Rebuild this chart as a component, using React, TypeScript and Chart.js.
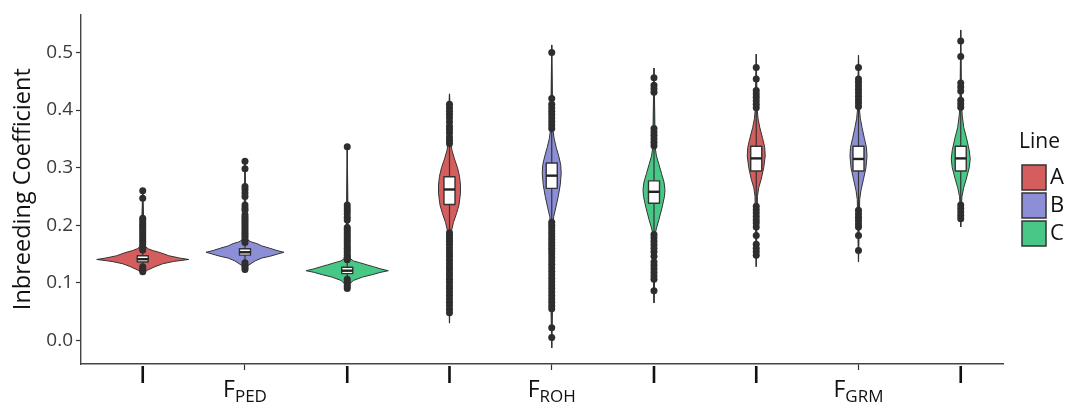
import React, { useEffect, useRef } from "react";
import { Chart, registerables } from "chart.js";

Chart.register(...registerables);

// ---------- data ----------
const categories = ["PED", "ROH", "GRM"];
const lineNames = ["A", "B", "C"];
const lineColors = ["#D45E5E", "#8D8FD6", "#48C887"];
const yTicks = [0, 0.1, 0.2, 0.3, 0.4, 0.5];

// violin density profiles: [value, half-width in category units]
const violinPedA = [[0.116, 0], [0.122, 0.016], [0.128, 0.04], [0.133, 0.065], [0.137, 0.1], [0.1405, 0.15], [0.143, 0.12], [0.147, 0.085], [0.152, 0.059], [0.156, 0.033], [0.159, 0.018], [0.163, 0.008], [0.175, 0.005], [0.21, 0.003], [0.262, 0]];
const violinPedB = [[0.122, 0], [0.13, 0.01], [0.138, 0.033], [0.143, 0.055], [0.146, 0.081], [0.15, 0.107], [0.153, 0.127], [0.156, 0.104], [0.16, 0.081], [0.164, 0.055], [0.168, 0.039], [0.171, 0.02], [0.174, 0.01], [0.18, 0.005], [0.22, 0.003], [0.311, 0]];
const violinPedC = [[0.088, 0], [0.098, 0.008], [0.104, 0.02], [0.11, 0.05], [0.114, 0.081], [0.118, 0.107], [0.121, 0.134], [0.124, 0.11], [0.128, 0.085], [0.131, 0.065], [0.135, 0.04], [0.138, 0.02], [0.142, 0.01], [0.16, 0.005], [0.2, 0.003], [0.336, 0]];
const violinRohA = [[0.03, 0], [0.1, 0.0023], [0.18, 0.004], [0.19, 0.0065], [0.205, 0.013], [0.22, 0.0228], [0.235, 0.0309], [0.255, 0.0358], [0.27, 0.0358], [0.285, 0.0326], [0.3, 0.026], [0.315, 0.0163], [0.33, 0.008], [0.345, 0.004], [0.4, 0.0023], [0.428, 0]];
const violinRohB = [[-0.013, 0], [0.05, 0.0023], [0.2, 0.004], [0.215, 0.0065], [0.23, 0.013], [0.25, 0.0212], [0.27, 0.0277], [0.29, 0.0309], [0.305, 0.0293], [0.32, 0.0228], [0.335, 0.0147], [0.35, 0.008], [0.365, 0.004], [0.42, 0.0023], [0.513, 0]];
const violinRohC = [[0.065, 0], [0.11, 0.0023], [0.185, 0.004], [0.195, 0.008], [0.21, 0.0163], [0.23, 0.026], [0.25, 0.0342], [0.262, 0.0358], [0.275, 0.0326], [0.29, 0.0244], [0.305, 0.0163], [0.32, 0.008], [0.335, 0.004], [0.4, 0.0023], [0.473, 0]];
const violinGrmA = [[0.128, 0], [0.2, 0.0023], [0.25, 0.004], [0.265, 0.008], [0.28, 0.0163], [0.3, 0.0244], [0.32, 0.0293], [0.335, 0.0277], [0.35, 0.0212], [0.37, 0.0114], [0.385, 0.006], [0.4, 0.0033], [0.497, 0]];
const violinGrmB = [[0.136, 0], [0.2, 0.0023], [0.245, 0.004], [0.26, 0.008], [0.28, 0.0163], [0.3, 0.0244], [0.32, 0.0277], [0.335, 0.026], [0.35, 0.0195], [0.37, 0.0114], [0.385, 0.006], [0.4, 0.0033], [0.495, 0]];
const violinGrmC = [[0.197, 0], [0.235, 0.0023], [0.25, 0.004], [0.265, 0.0098], [0.28, 0.0179], [0.3, 0.0277], [0.315, 0.0309], [0.33, 0.0277], [0.35, 0.0195], [0.37, 0.0098], [0.39, 0.005], [0.41, 0.0026], [0.539, 0]];

// boxplot statistics (order: PED A,B,C, ROH A,B,C, GRM A,B,C)
const boxQ1 = [0.136, 0.148, 0.116, 0.236, 0.264, 0.238, 0.294, 0.294, 0.294];
const boxMedian = [0.141, 0.153, 0.121, 0.262, 0.286, 0.258, 0.316, 0.315, 0.316];
const boxQ3 = [0.147, 0.159, 0.127, 0.284, 0.308, 0.277, 0.337, 0.337, 0.337];
const tailMin = [0.116, 0.122, 0.088, 0.03, -0.013, 0.065, 0.128, 0.136, 0.197];
const tailMax = [0.262, 0.311, 0.336, 0.428, 0.513, 0.473, 0.497, 0.495, 0.539];

// outliers
const outPedA = [0.26, 0.247, 0.212, 0.208, 0.204, 0.2, 0.196, 0.192, 0.188, 0.184, 0.18, 0.176, 0.172, 0.168, 0.164, 0.16, 0.157, 0.128, 0.125, 0.122, 0.119];
const outPedB = [0.311, 0.298, 0.267, 0.262, 0.256, 0.25, 0.235, 0.23, 0.226, 0.218, 0.214, 0.21, 0.206, 0.202, 0.198, 0.194, 0.19, 0.186, 0.182, 0.178, 0.174, 0.17, 0.135, 0.131, 0.127, 0.123];
const outPedC = [0.336, 0.235, 0.23, 0.225, 0.22, 0.214, 0.209, 0.196, 0.192, 0.188, 0.184, 0.18, 0.176, 0.172, 0.168, 0.164, 0.16, 0.156, 0.152, 0.148, 0.144, 0.14, 0.106, 0.102, 0.098, 0.094, 0.09];
const outRohA = [0.41, 0.404, 0.398, 0.392, 0.386, 0.379, 0.372, 0.366, 0.36, 0.353, 0.347, 0.342, 0.187, 0.182, 0.177, 0.172, 0.167, 0.161, 0.155, 0.15, 0.145, 0.139, 0.133, 0.128, 0.123, 0.117, 0.112, 0.106, 0.101, 0.095, 0.09, 0.084, 0.078, 0.072, 0.066, 0.06, 0.054, 0.048];
const outRohB = [0.5, 0.42, 0.41, 0.404, 0.398, 0.392, 0.386, 0.38, 0.374, 0.368, 0.205, 0.2, 0.195, 0.19, 0.185, 0.18, 0.175, 0.17, 0.165, 0.16, 0.155, 0.15, 0.144, 0.138, 0.132, 0.126, 0.12, 0.114, 0.108, 0.102, 0.096, 0.09, 0.084, 0.078, 0.072, 0.066, 0.06, 0.055, 0.022, 0.005];
const outRohC = [0.456, 0.443, 0.437, 0.431, 0.368, 0.362, 0.356, 0.35, 0.344, 0.338, 0.184, 0.178, 0.172, 0.166, 0.16, 0.154, 0.146, 0.136, 0.13, 0.124, 0.118, 0.112, 0.106, 0.086];
const outGrmA = [0.474, 0.454, 0.434, 0.428, 0.422, 0.416, 0.41, 0.404, 0.233, 0.227, 0.221, 0.215, 0.209, 0.204, 0.197, 0.182, 0.167, 0.16, 0.154, 0.148];
const outGrmB = [0.474, 0.454, 0.448, 0.442, 0.436, 0.43, 0.424, 0.418, 0.412, 0.406, 0.226, 0.22, 0.214, 0.208, 0.202, 0.197, 0.182, 0.156];
const outGrmC = [0.52, 0.493, 0.447, 0.44, 0.433, 0.417, 0.411, 0.405, 0.235, 0.229, 0.223, 0.217, 0.211];

const violins = [violinPedA, violinPedB, violinPedC, violinRohA, violinRohB, violinRohC, violinGrmA, violinGrmB, violinGrmC];
const outliers = [outPedA, outPedB, outPedC, outRohA, outRohB, outRohC, outGrmA, outGrmB, outGrmC];

// ---------- helpers ----------
const FONT = "'Open Sans', 'Noto Sans', sans-serif";
const INK = "#333333";
const posOf = (idx: number) => Math.floor(idx / 3) + 1 + ((idx % 3) - 1) / 3;

const violinPlugin = {
  id: "violins",
  beforeDatasetsDraw(chart: any) {
    const xs = chart.scales.x;
    const ys = chart.scales.y;
    const ctx = chart.ctx;
    ctx.save();
    violins.forEach((prof: number[][], idx: number) => {
      const cx = posOf(idx);
      const color = lineColors[idx % 3];
      ctx.beginPath();
      prof.forEach((p, i) => {
        const px = xs.getPixelForValue(cx + p[1]);
        const py = ys.getPixelForValue(p[0]);
        if (i === 0) ctx.moveTo(px, py);
        else ctx.lineTo(px, py);
      });
      for (let i = prof.length - 1; i >= 0; i--) {
        ctx.lineTo(xs.getPixelForValue(cx - prof[i][1]), ys.getPixelForValue(prof[i][0]));
      }
      ctx.closePath();
      ctx.fillStyle = color;
      ctx.fill();
      ctx.lineWidth = 1;
      ctx.strokeStyle = INK;
      ctx.lineJoin = "round";
      ctx.stroke();
      const xc = xs.getPixelForValue(cx);
      ctx.beginPath();
      ctx.moveTo(xc, ys.getPixelForValue(tailMin[idx]));
      ctx.lineTo(xc, ys.getPixelForValue(tailMax[idx]));
      ctx.lineWidth = 1.2;
      ctx.strokeStyle = INK;
      ctx.stroke();
      const bl = xs.getPixelForValue(cx - 0.018);
      const br = xs.getPixelForValue(cx + 0.018);
      const bt = ys.getPixelForValue(boxQ3[idx]);
      const bb = ys.getPixelForValue(boxQ1[idx]);
      ctx.fillStyle = "#ffffff";
      ctx.fillRect(bl, bt, br - bl, bb - bt);
      ctx.lineWidth = 1.4;
      ctx.strokeStyle = INK;
      ctx.strokeRect(bl, bt, br - bl, bb - bt);
      const bm = ys.getPixelForValue(boxMedian[idx]);
      ctx.beginPath();
      ctx.moveTo(bl, bm);
      ctx.lineTo(br, bm);
      ctx.lineWidth = 2.4;
      ctx.strokeStyle = "#222222";
      ctx.stroke();
    });
    ctx.restore();
  },
  afterDraw(chart: any) {
    const xs = chart.scales.x;
    const ctx = chart.ctx;
    const bottom = chart.chartArea.bottom;
    ctx.save();
    violins.forEach((_p: any, idx: number) => {
      if (idx % 3 === 1) return;
      const x = xs.getPixelForValue(posOf(idx));
      ctx.beginPath();
      ctx.moveTo(x, bottom + 2);
      ctx.lineTo(x, bottom + 19);
      ctx.lineWidth = 2.6;
      ctx.strokeStyle = "#111111";
      ctx.stroke();
    });
    categories.forEach((c, i) => {
      const x = xs.getPixelForValue(i + 1);
      ctx.font = `23px ${FONT}`;
      const wF = ctx.measureText("F").width;
      ctx.font = `17px ${FONT}`;
      const wS = ctx.measureText(c).width;
      const start = x - (wF + wS) / 2;
      ctx.fillStyle = "#111111";
      ctx.textBaseline = "alphabetic";
      ctx.textAlign = "left";
      ctx.font = `23px ${FONT}`;
      ctx.fillText("F", start, bottom + 33);
      ctx.font = `17px ${FONT}`;
      ctx.fillText(c, start + wF, bottom + 38);
    });
    ctx.fillStyle = "#111111";
    ctx.font = `21px ${FONT}`;
    ctx.textAlign = "left";
    ctx.textBaseline = "alphabetic";
    ctx.fillText("Line", 1019, 148);
    lineNames.forEach((n, i) => {
      const y = 165 + i * 28;
      ctx.fillStyle = lineColors[i];
      ctx.fillRect(1022, y, 24, 25);
      ctx.lineWidth = 1.5;
      ctx.strokeStyle = INK;
      ctx.strokeRect(1022, y, 24, 25);
      ctx.fillStyle = "#111111";
      ctx.font = `22px ${FONT}`;
      ctx.textBaseline = "middle";
      ctx.fillText(n, 1050, y + 13);
      ctx.textBaseline = "alphabetic";
    });
    ctx.restore();
  },
};

export default function App() {
  const ref = useRef<HTMLCanvasElement | null>(null);
  useEffect(() => {
    if (!ref.current) return;
    const datasets = outliers.map((vals, idx) => ({
      label: categories[Math.floor(idx / 3)] + " " + lineNames[idx % 3],
      data: vals.map((v) => ({ x: posOf(idx), y: v })),
      pointRadius: 3.5,
      pointBackgroundColor: "#2e2e2e",
      pointBorderWidth: 0,
      showLine: false,
    }));
    const chart = new Chart(ref.current, {
      type: "scatter",
      data: { datasets },
      plugins: [violinPlugin],
      options: {
        animation: false,
        responsive: true,
        maintainAspectRatio: false,
        events: [],
        layout: { padding: { top: 7, right: 65, left: 0, bottom: 0 } },
        plugins: { legend: { display: false }, tooltip: { enabled: false } },
        scales: {
          x: {
            type: "linear",
            min: 0.4654,
            max: 3.4711,
            afterBuildTicks: (s: any) => {
              s.ticks = categories.map((_c, i) => ({ value: i + 1 }));
            },
            afterFit: (s: any) => {
              s.height = 44;
            },
            ticks: { display: false },
            grid: { display: true, drawOnChartArea: false, drawTicks: true, tickLength: 6, tickColor: INK, tickWidth: 1.2 },
            border: { display: true, color: "#444444", width: 1.4 },
          },
          y: {
            type: "linear",
            min: -0.041,
            max: 0.566,
            afterBuildTicks: (s: any) => {
              s.ticks = yTicks.map((v) => ({ value: v }));
            },
            afterFit: (s: any) => {
              s.width = 81;
            },
            ticks: {
              callback: (v: any) => Number(v).toFixed(1),
              font: { family: FONT, size: 19 },
              color: "#3a3a3a",
              padding: 3,
            },
            grid: { display: true, drawOnChartArea: false, drawTicks: true, tickLength: 5, tickColor: INK, tickWidth: 1.2 },
            border: { display: true, color: "#444444", width: 1.4 },
            title: {
              display: true,
              text: "Inbreeding Coefficient",
              font: { family: FONT, size: 23.5 },
              color: "#111111",
              padding: { top: 9, bottom: 0 },
            },
          },
        },
      },
    });
    return () => chart.destroy();
  }, []);
  return (
    <div style={{ position: "absolute", left: 0, top: 0, width: 1068, height: 408, background: "#ffffff" }}>
      <canvas ref={ref} />
    </div>
  );
}
